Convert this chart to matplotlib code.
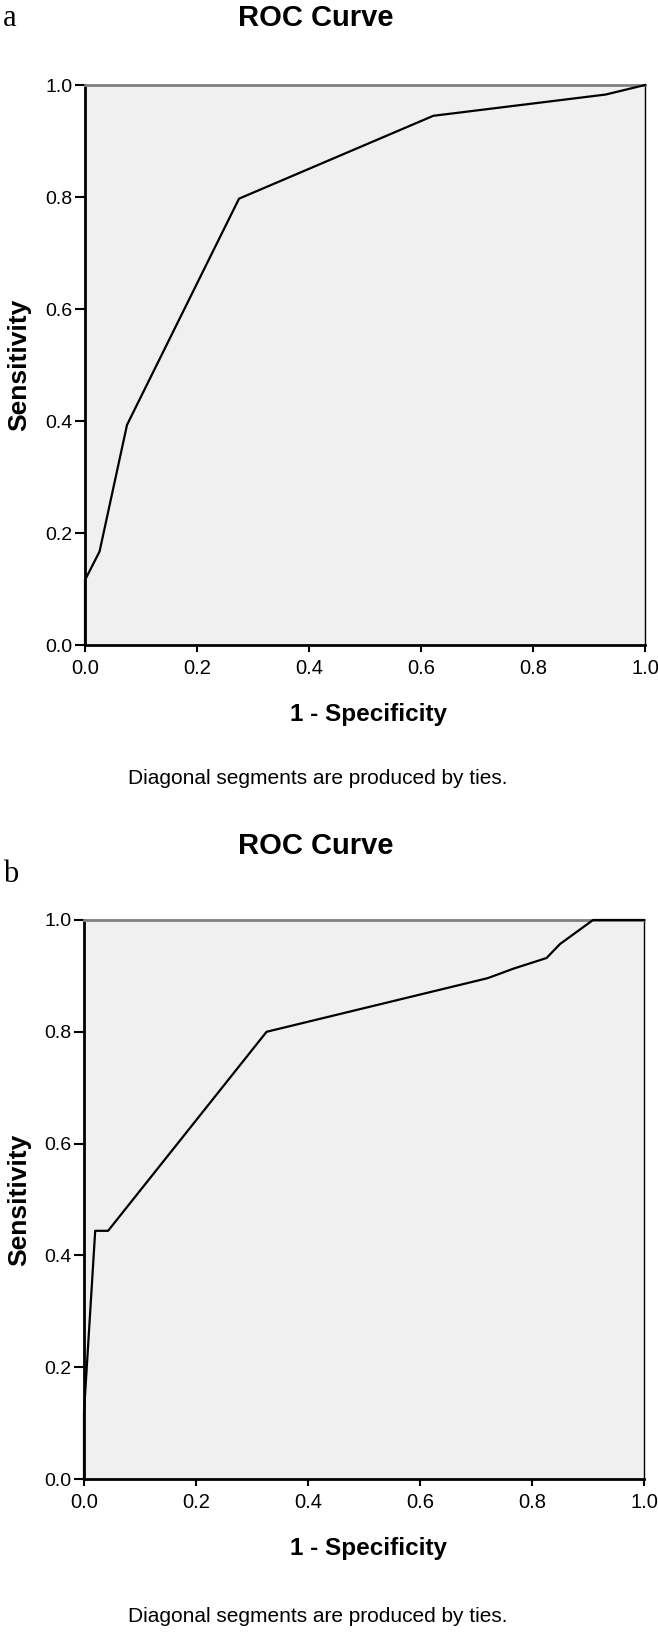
import numpy as np
import matplotlib
matplotlib.use("Agg")
import matplotlib.pyplot as plt

# ROC points (1 - specificity, sensitivity)
fpr_a = [0.0, 0.0, 0.026, 0.075, 0.275, 0.622, 0.93, 1.0]
sens_a = [0.0, 0.116, 0.167, 0.393, 0.797, 0.945, 0.983, 1.0]

fpr_b = [0.0, 0.0, 0.02, 0.043, 0.326, 0.721, 0.767, 0.826, 0.85, 0.909, 1.0]
sens_b = [0.0, 0.12, 0.444, 0.444, 0.80, 0.896, 0.913, 0.932, 0.957, 1.0, 1.0]

ticks = [0.0, 0.2, 0.4, 0.6, 0.8, 1.0]
tick_labels = ["0.0", "0.2", "0.4", "0.6", "0.8", "1.0"]
panel_letters = ["a", "b"]
title = "ROC Curve"
note = "Diagonal segments are produced by ties."

W, H = 658, 1632
narrow = ["Liberation Sans Narrow", "Liberation Sans", "DejaVu Sans"]
sans = ["Liberation Sans", "DejaVu Sans"]
serif = ["Liberation Serif", "DejaVu Serif"]

fig = plt.figure(figsize=(W / 100, H / 100), dpi=100)

def fx(px):
    return px / W

def fy(py):
    return 1 - py / H

# pixel boxes (left, top, right, bottom) for each panel
boxes = [(85, 85, 645, 645), (84, 920, 644, 1479)]
data = [(fpr_a, sens_a), (fpr_b, sens_b)]
title_y = [18, 846]
letter_y = [19, 874]

for i, (box, (xs, ys)) in enumerate(zip(boxes, data)):
    l, t, r, b = box
    ax = fig.add_axes([fx(l), fy(b), fx(r) - fx(l), fy(t) - fy(b)])
    ax.set_facecolor("#f0f0f0")
    ax.plot(xs, ys, color="black", lw=1.6, clip_on=False, zorder=3)
    ax.set_xlim(0, 1)
    ax.set_ylim(0, 1)
    ax.set_xticks(ticks)
    ax.set_yticks(ticks)
    ax.set_xticklabels(tick_labels, family=narrow, fontsize=14.5)
    ax.set_yticklabels(tick_labels, family=sans, fontsize=14)
    ax.tick_params(axis="x", direction="out", length=5, width=1.5, pad=5, colors="black")
    ax.tick_params(axis="y", direction="out", length=7, width=1.5, pad=2, colors="black")
    ax.spines["left"].set_linewidth(2)
    ax.spines["bottom"].set_linewidth(2)
    ax.spines["top"].set_color("#808080")
    ax.spines["top"].set_linewidth(2)
    ax.spines["right"].set_linewidth(1)

    fig.text(fx(316), fy(title_y[i]), title, ha="center", va="center",
             family=narrow, fontweight="bold", fontsize=21)
    fig.text(fx(3), fy(letter_y[i]), panel_letters[i], ha="left", va="center",
             family=serif, fontsize=22)
    fig.text(fx(19), fy((t + b) / 2), "Sensitivity", rotation=90, ha="center", va="center",
             family=narrow, fontweight="bold", fontsize=19)
    fig.text(fx(368), fy(b + 69), "1 - Specificity", ha="center", va="center",
             family=narrow, fontweight="bold", fontsize=17.5)
    fig.text(fx(318), fy(b + 134 if i == 0 else b + 138), note, ha="center", va="center",
             family=narrow, fontsize=15)

fig.savefig("out.png", dpi=100)
